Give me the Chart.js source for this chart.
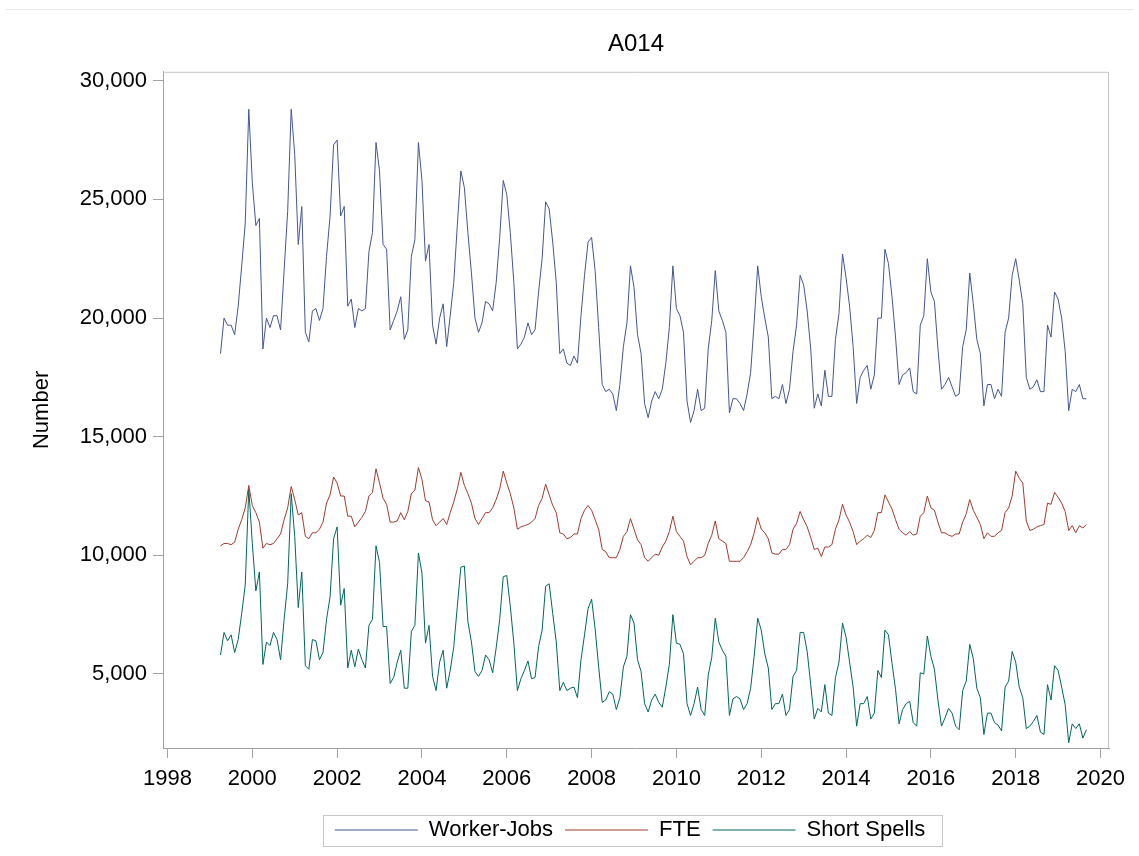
<!DOCTYPE html>
<html>
<head>
<meta charset="utf-8">
<title>A014</title>
<script src="https://cdn.jsdelivr.net/npm/chart.js@4/dist/chart.umd.min.js"></script>
<style>
  html, body { margin: 0; padding: 0; background: #fff; }
  #wrap { position: relative; width: 1139px; height: 856px; }
  #topline { position: absolute; left: 6px; top: 9px; width: 1127px; border-top: 1px solid #e8e8e8; }
  canvas { position: absolute; left: 0; top: 0; }
</style>
</head>
<body>
<div id="wrap">
  <div id="topline"></div>
  <canvas id="a014" width="1139" height="856"></canvas>
</div>
<script>
// monthly series, April 1999 .. September 2019
const startYear = 1999;
const startMonth = 4;

const workerJobs = [
  18500, 20000, 19700, 19700, 19300, 20500, 22200, 24000, 28800,
  25700, 23900, 24200, 18700, 20000, 19600, 20100, 20100, 19500, 22000, 24500, 28800,
  26900, 23100, 24700, 19400, 19000, 20300, 20400, 19900, 20400, 22600, 24300, 27300,
  27500, 24300, 24700, 20500, 20800, 19600, 20400, 20300, 20400, 22800, 23600, 27400,
  26200, 23100, 22900, 19500, 19900, 20300, 20900, 19100, 19500, 22600, 23300, 27400,
  25800, 22400, 23100, 19700, 18900, 20000, 20600, 18800, 20100, 21500, 23900, 26200,
  25500, 23600, 21900, 20000, 19400, 19800, 20700, 20600, 20300, 21500, 23400, 25800,
  25200, 23600, 21500, 18700, 18900, 19200, 19800, 19300, 19500, 21100, 22500, 24900,
  24600, 23200, 21500, 18500, 18700, 18100, 18000, 18400, 18100, 20100, 21800, 23200,
  23400, 22000, 19600, 17200, 16900, 17000, 16800, 16100, 17200, 18800, 19800, 22200,
  21300, 19300, 18500, 16400, 15800, 16500, 16900, 16600, 17000, 18100, 19600, 22200,
  20400, 20100, 19400, 16500, 15600, 16100, 17000, 16100, 16200, 18700, 19900, 22000,
  20300, 19900, 19400, 16000, 16600, 16600, 16400, 16100, 16800, 17700, 19800, 22200,
  20900, 20000, 19200, 16600, 16700, 16600, 17200, 16400, 17000, 18600, 19700, 21800,
  21400, 20300, 18700, 16200, 16800, 16300, 17800, 16700, 16700, 19100, 20200, 22700,
  21700, 20500, 18800, 16400, 17500, 17800, 18000, 17000, 17600, 20000, 20000, 22900,
  22300, 20900, 19200, 17200, 17600, 17700, 17900, 16900, 16800, 19700, 20100, 22500,
  21100, 20700, 18700, 17000, 17200, 17500, 17100, 16700, 16800, 18800, 19500, 21900,
  20600, 19100, 18500, 16300, 17200, 17200, 16600, 17000, 16700, 19400, 20000, 21800,
  22500, 21600, 20600, 17500, 17000, 17100, 17400, 16900, 16900, 19700, 19200, 21100,
  20800, 20000, 18600, 16100, 17000, 16900, 17200, 16600, 16600
];

const fte = [
  10400, 10500, 10500, 10450, 10550, 11100, 11500, 12000, 12950,
  12100, 11800, 11400, 10300, 10500, 10450, 10500, 10700, 10900, 11500, 12000, 12900,
  12350, 11700, 11800, 10800, 10700, 10950, 10950, 11100, 11400, 12200, 12550, 13300,
  13050, 12500, 12500, 11650, 11650, 11200, 11400, 11600, 11850, 12500, 12650, 13650,
  13050, 12400, 12150, 11400, 11400, 11450, 11800, 11500, 11850, 12600, 12750, 13700,
  13200, 12300, 12250, 11500, 11250, 11400, 11550, 11300, 11800, 12250, 12800, 13500,
  12950, 12600, 12200, 11550, 11300, 11550, 11800, 11800, 12000, 12350, 12800, 13550,
  13050, 12600, 12000, 11100, 11200, 11250, 11300, 11400, 11550, 12100, 12400, 13000,
  12550, 12100, 11800, 10950, 10900, 10700, 10750, 10900, 10900, 11550, 11900, 12100,
  11900, 11500, 11100, 10250, 10150, 9900, 9900, 9900, 10250, 10800, 11000, 11550,
  11100, 10650, 10450, 9900, 9750, 9900, 10050, 10000, 10350, 10600, 11000, 11650,
  11000, 10800, 10600, 9950, 9600, 9750, 9900, 9900, 10000, 10500, 10850, 11450,
  10700, 10600, 10500, 9750, 9750, 9750, 9750, 9900, 10150, 10450, 10950, 11600,
  11100, 10950, 10700, 10100, 10050, 10050, 10250, 10250, 10450, 11100, 11350, 11850,
  11500, 11200, 10750, 10250, 10300, 9950, 10350, 10350, 10450, 11100, 11500, 12150,
  11700, 11400, 11000, 10450, 10600, 10700, 10850, 10750, 11050, 11800, 11800, 12550,
  12250, 11950, 11500, 11100, 10950, 10850, 11000, 10850, 10900, 11650, 11800, 12500,
  12000, 11900, 11400, 10950, 10950, 10850, 10800, 10900, 10900, 11400, 11750, 12350,
  11900, 11600, 11300, 10700, 10950, 10800, 10800, 10950, 11050, 11800, 12000, 12500,
  13550, 13250, 13050, 11450, 11050, 11100, 11200, 11250, 11300, 12200, 12150, 12650,
  12450, 12200, 11850, 11050, 11250, 10950, 11250, 11150, 11300
];

const shortSpells = [
  5800, 6750, 6400, 6650, 5900, 6450, 7550, 8750, 12800,
  10500, 8500, 9300, 5400, 6350, 6200, 6750, 6450, 5600, 7300, 8800, 12600,
  10800, 7800, 9300, 5350, 5200, 6450, 6400, 5600, 5900, 7300, 8250, 10700,
  11200, 7900, 8600, 5250, 6000, 5300, 6050, 5600, 5250, 7050, 7300, 10400,
  9700, 7000, 7000, 4600, 4850, 5500, 6000, 4400, 4400, 6800, 7050, 10100,
  9250, 6300, 7050, 4900, 4300, 5500, 6000, 4400, 5150, 6150, 7850, 9500,
  9550, 7200, 6350, 5100, 4900, 5150, 5800, 5600, 5050, 6100, 7300, 9100,
  9150, 7850, 6300, 4300, 4800, 5150, 5550, 4800, 4850, 6150, 6850, 8700,
  8800, 7550, 6350, 4300, 4650, 4300, 4400, 4450, 4000, 5600, 6650, 7750,
  8150, 6900, 5300, 3800, 3900, 4250, 4150, 3500, 4000, 5300, 5750, 7500,
  7150, 5600, 5100, 3750, 3400, 3900, 4150, 3800, 3600, 4450, 5400, 7500,
  6300, 6250, 5850, 3750, 3250, 3750, 4450, 3500, 3250, 4950, 5700, 7350,
  6350, 6000, 5750, 3250, 3950, 4050, 3950, 3500, 3750, 4400, 5750, 7350,
  6850, 5850, 5250, 3500, 3750, 3750, 4150, 3250, 3500, 4900, 5150, 6750,
  6750, 5950, 4550, 3100, 3550, 3400, 4550, 3350, 3250, 4850, 5500, 7150,
  6550, 5500, 4450, 2800, 3750, 3750, 4050, 3100, 3350, 5150, 4850, 6850,
  6650, 5450, 4350, 2900, 3500, 3750, 3850, 2950, 2800, 5050, 5000, 6600,
  5750, 5200, 3900, 2800, 3150, 3550, 3350, 2800, 2650, 4300, 4700, 6250,
  5650, 4400, 4000, 2450, 3350, 3350, 2950, 2850, 2600, 4450, 4700, 5950,
  5500, 4450, 4000, 2700, 2800, 3000, 3250, 2550, 2450, 4550, 3900, 5350,
  5150, 4450, 3700, 2100, 2900, 2700, 2900, 2300, 2650
];

const yearTicks = [1998, 2000, 2002, 2004, 2006, 2008, 2010, 2012, 2014, 2016, 2018, 2020];
const valueTicks = [5000, 10000, 15000, 20000, 25000, 30000];

const FONT = "'Liberation Sans', Arial, sans-serif";
const AXIS_GREY = "#a3a3a3";

function monthX(i) {
  return startYear + (startMonth - 1 + i) / 12;
}

function toPoints(values) {
  return values.map((v, i) => ({ x: monthX(i), y: v }));
}

function lineSet(label, values, color) {
  return {
    label,
    data: toPoints(values),
    borderColor: color,
    backgroundColor: color,
    borderWidth: 1,
    pointRadius: 0,
    tension: 0,
    fill: false,
  };
}

// top and right edges of the plot frame
const frameEdges = {
  id: "frameEdges",
  beforeDatasetsDraw(chart) {
    const { ctx, chartArea: a } = chart;
    ctx.save();
    ctx.strokeStyle = "#c4c4c4";
    ctx.lineWidth = 1;
    ctx.beginPath();
    ctx.moveTo(a.left, a.top + 0.5);
    ctx.lineTo(a.right - 0.5, a.top + 0.5);
    ctx.lineTo(a.right - 0.5, a.bottom);
    ctx.stroke();
    ctx.restore();
  },
};

// nudge the legend a little left, then box its entries
const legendFrame = {
  id: "legendFrame",
  afterLayout(chart) {
    const lg = chart.legend;
    if (!lg) return;
    lg.left -= 6;
    lg.right -= 6;
  },
  afterDraw(chart) {
    const lg = chart.legend;
    if (!lg || !lg.legendHitBoxes || !lg.legendHitBoxes.length) return;
    const boxes = lg.legendHitBoxes;
    const first = boxes[0];
    const last = boxes[boxes.length - 1];
    const cy = first.top + first.height / 2;
    const left = Math.round(first.left - 12) + 0.5;
    const right = Math.round(last.left + last.width + 17) + 0.5;
    const { ctx } = chart;
    ctx.save();
    ctx.strokeStyle = "#c8c8c8";
    ctx.lineWidth = 1;
    ctx.strokeRect(left, Math.round(cy - 15) + 0.5, right - left, 31);
    ctx.restore();
  },
};

new Chart(document.getElementById("a014"), {
  type: "line",
  data: {
    datasets: [
      lineSet("Worker-Jobs", workerJobs, "#445694"),
      lineSet("FTE", fte, "#a23a2e"),
      lineSet("Short Spells", shortSpells, "#01665e"),
    ],
  },
  options: {
    responsive: false,
    animation: false,
    events: [],
    layout: { padding: { top: 0, left: 0, right: 30, bottom: 5 } },
    plugins: {
      title: {
        display: true,
        text: "A014",
        fullSize: false,
        color: "#000",
        font: { family: FONT, size: 24, weight: "normal" },
        padding: { top: 30, bottom: 13 },
      },
      legend: {
        display: true,
        position: "bottom",
        fullSize: false,
        labels: {
          usePointStyle: true,
          pointStyle: "line",
          pointStyleWidth: 83,
          padding: 12,
          color: "#000",
          font: { family: FONT, size: 22 },
        },
      },
      tooltip: { enabled: false },
    },
    scales: {
      x: {
        type: "linear",
        min: 1997.894,
        max: 2020.2,
        afterBuildTicks: (s) => {
          s.ticks = yearTicks.map((v) => ({ value: v }));
        },
        afterFit: (s) => {
          s.height = 59;
        },
        grid: { drawOnChartArea: false, drawTicks: true, tickLength: 10, tickColor: AXIS_GREY },
        border: { display: true, color: AXIS_GREY },
        ticks: {
          autoSkip: false,
          maxRotation: 0,
          padding: 8,
          color: "#000",
          font: { family: FONT, size: 22 },
          callback: (v) => String(v),
        },
      },
      y: {
        type: "linear",
        min: 1880,
        max: 30379,
        afterBuildTicks: (s) => {
          s.ticks = valueTicks.map((v) => ({ value: v }));
        },
        afterFit: (s) => {
          s.width = 163;
        },
        grid: { drawOnChartArea: false, drawTicks: true, tickLength: 10, tickColor: AXIS_GREY },
        border: { display: true, color: AXIS_GREY },
        title: {
          display: true,
          text: "Number",
          color: "#000",
          font: { family: FONT, size: 22 },
          padding: { top: 29, bottom: 0 },
        },
        ticks: {
          padding: 6,
          color: "#000",
          font: { family: FONT, size: 22 },
          callback: (v) => Number(v).toLocaleString("en-US"),
        },
      },
    },
  },
  plugins: [frameEdges, legendFrame],
});
</script>
</body>
</html>
